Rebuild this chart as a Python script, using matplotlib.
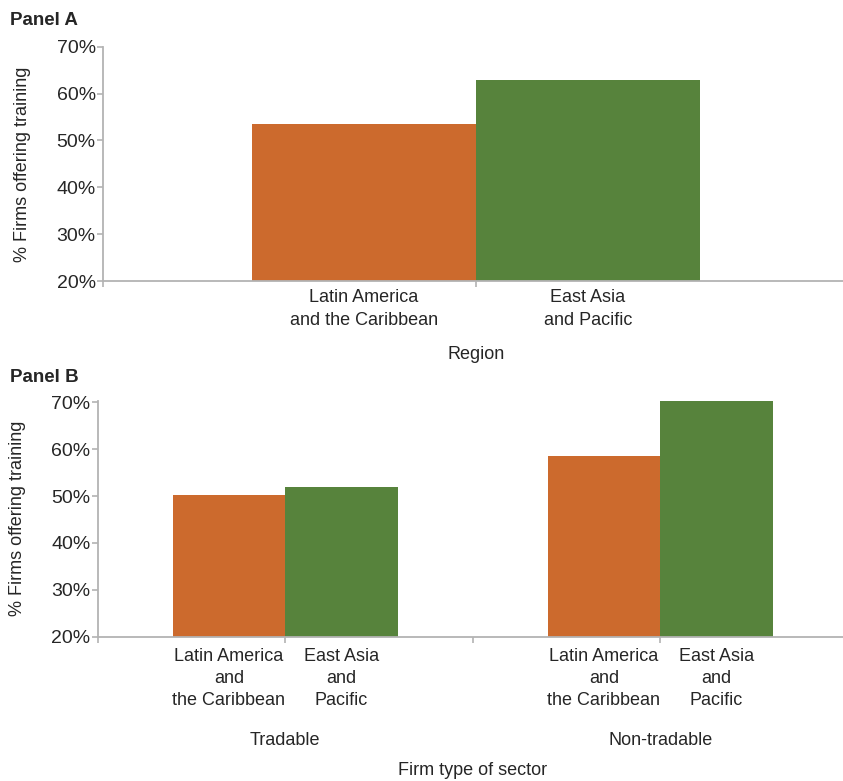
import matplotlib.pyplot as plt
from matplotlib.ticker import StrMethodFormatter

# Data
regions = ["Latin America\nand the Caribbean", "East Asia\nand Pacific"]
panel_a_values = [53.5, 62.9]

sectors = ["Tradable", "Non-tradable"]
sector_regions = ["Latin America\nand\nthe Caribbean", "East Asia\nand\nPacific"]
lac_values = [50.2, 58.6]
eap_values = [51.9, 70.2]

orange = "#CC6A2D"
green = "#57833C"
axis_gray = "#b3b3b3"
text_color = "#262626"

plt.rcParams['font.family'] = ['Liberation Sans', 'DejaVu Sans']
plt.rcParams['text.color'] = text_color
plt.rcParams['axes.labelcolor'] = text_color
plt.rcParams['xtick.color'] = axis_gray
plt.rcParams['ytick.color'] = axis_gray
plt.rcParams['xtick.labelcolor'] = text_color
plt.rcParams['ytick.labelcolor'] = text_color

fig = plt.figure(figsize=(8.43, 7.81), dpi=100)
W, H = 843, 781


def style_axes(ax, top=70):
    for side in ["top", "right"]:
        ax.spines[side].set_visible(False)
    for side in ["left", "bottom"]:
        ax.spines[side].set_color(axis_gray)
        ax.spines[side].set_linewidth(1.3)
    ax.set_ylim(20, top)
    ax.set_yticks([20, 30, 40, 50, 60, 70])
    ax.yaxis.set_major_formatter(StrMethodFormatter("{x:.0f}%"))
    ax.tick_params(axis="y", length=4.3, width=1.2, pad=1, labelsize=14)
    ax.set_xlim(0, 2)
    ax.set_xticks([0, 1, 2], minor=True)
    ax.tick_params(axis="x", which="minor", length=4, width=1.2)
    ax.tick_params(axis="x", which="major", length=0, labelsize=13)
    ax.set_ylabel("% Firms offering training", fontsize=13, labelpad=18)


# Panel A
ax1 = fig.add_axes([103 / W, 1 - 281 / H, 746 / W, 234.3 / H])
style_axes(ax1)
pos_a = [0.7, 1.3]
ax1.bar(pos_a, panel_a_values, width=0.6, color=[orange, green])
ax1.set_xticks(pos_a)
ax1.set_xticklabels(regions, linespacing=1.45)
ax1.tick_params(axis="x", which="major", pad=6)
ax1.set_xlabel("Region", fontsize=13, labelpad=12)

# Panel B (y range nudged a hair above 70% so the tallest bar is not cut)
ax2 = fig.add_axes([97.7 / W, 1 - 636.7 / H, 750 / W, 235.8 / H])
style_axes(ax2, top=70.3)
centers = [0.5, 1.5]
lac_pos = [c - 0.15 for c in centers]
eap_pos = [c + 0.15 for c in centers]
ax2.bar(lac_pos, lac_values, width=0.3, color=orange)
ax2.bar(eap_pos, eap_values, width=0.3, color=green)
ax2.set_xticks([0, 0.5, 1, 1.5, 2], minor=True)
ax2.set_xticks(lac_pos + eap_pos)
ax2.set_xticklabels([sector_regions[0]] * 2 + [sector_regions[1]] * 2, linespacing=1.4)
ax2.tick_params(axis="x", which="major", pad=8)
for c, name in zip(centers, sectors):
    ax2.annotate(name, xy=(c, 0), xycoords=("data", "axes fraction"),
                 xytext=(0, -108), textcoords="offset pixels",
                 ha="center", va="baseline", fontsize=13)
ax2.annotate("Firm type of sector", xy=(1, 0), xycoords=("data", "axes fraction"),
             xytext=(0, -138), textcoords="offset pixels",
             ha="center", va="baseline", fontsize=13)

# Panel titles
fig.text(10 / W, 1 - 25 / H, "Panel A", fontsize=13.5, fontweight="bold", va="baseline")
fig.text(10 / W, 1 - 382 / H, "Panel B", fontsize=13.5, fontweight="bold", va="baseline")

fig.savefig("out.png", dpi=100)
